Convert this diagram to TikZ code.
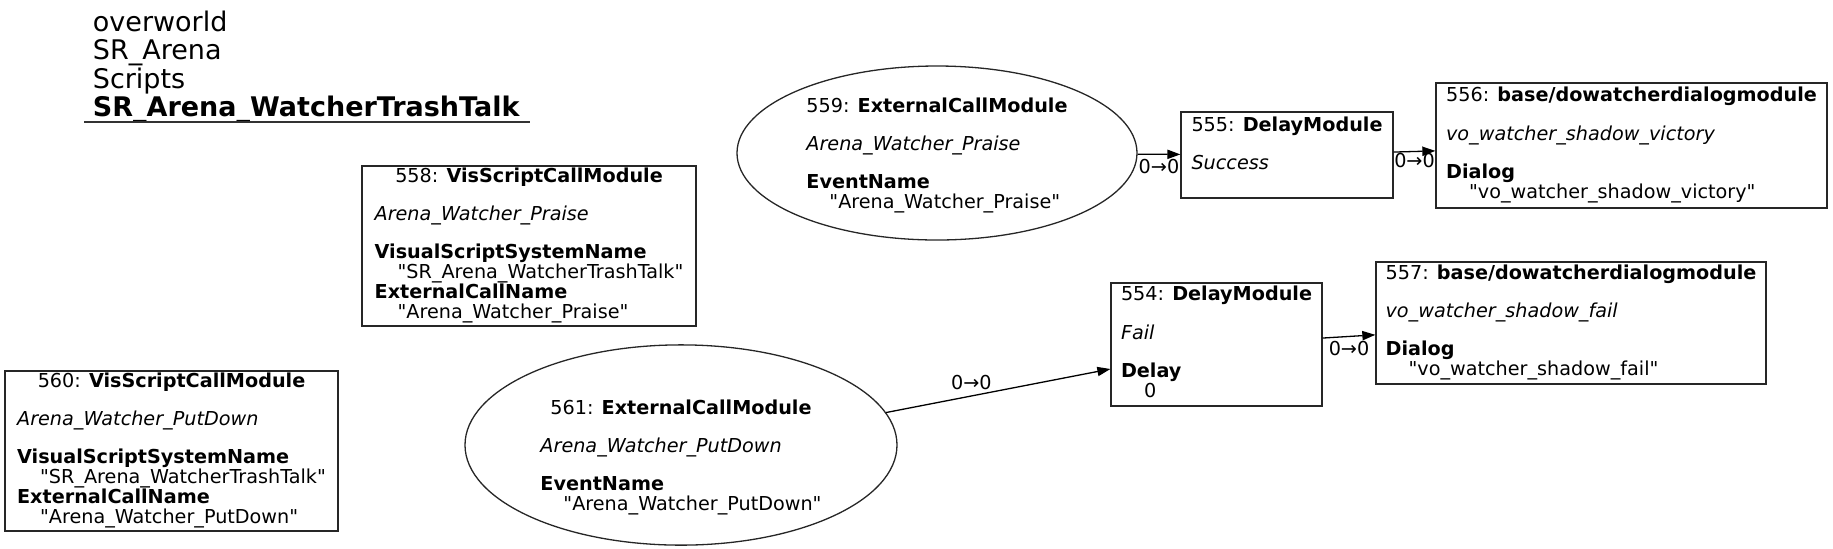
\documentclass[tikz,border=0pt]{standalone}
\usepackage{fontspec}
\newfontfamily\reg{DejaVu Sans}
\usetikzlibrary{arrows.meta,shapes.geometric}
\newcommand\nfont{\reg\fontsize{9.6}{9.1}\selectfont}
\newcommand\tfont{\reg\fontsize{13.5}{13.6}\selectfont}
\newcommand\valind{\hspace*{11.5pt}}
\tikzset{
  box/.style={draw=black!85, line width=0.65pt, rectangle, inner sep=0pt, font=\nfont},
  oval/.style={draw=black!85, line width=0.65pt, ellipse, inner sep=0pt, font=\nfont},
  link/.style={draw=black, line width=0.65pt, -{Triangle[length=6.5pt,width=4.6pt]}},
  lbl/.style={font=\nfont, inner sep=1pt}
}
\begin{document}
\begin{tikzpicture}[x=0.5pt,y=-0.5pt]
\useasboundingbox (0,0) rectangle (1833,548);

\node[anchor=north west, inner sep=0pt, font=\tfont] (title) at (92.5,10.5)
 {\begin{tabular}{@{}l@{}}overworld\\SR\_Arena\\Scripts\\\textbf{SR\_Arena\_WatcherTrashTalk}\end{tabular}};
\draw[line width=0.8pt, black!80] (84,122) -- (530,122);

\node[box, minimum width=167pt, minimum height=80pt] (n558) at (529,246)
 {\begin{tabular}{@{}l@{}}\multicolumn{1}{@{}c@{}}{558: \textbf{VisScriptCallModule}}\\ \\
 \textit{Arena\_Watcher\_Praise}\\ \\
 \textbf{VisualScriptSystemName}\\ \valind"SR\_Arena\_WatcherTrashTalk"\\
 \textbf{ExternalCallName}\\ \valind"Arena\_Watcher\_Praise"\end{tabular}};

\node[box, minimum width=166.5pt, minimum height=80pt] (n560) at (171.5,451)
 {\begin{tabular}{@{}l@{}}\multicolumn{1}{@{}c@{}}{560: \textbf{VisScriptCallModule}}\\ \\
 \textit{Arena\_Watcher\_PutDown}\\ \\
 \textbf{VisualScriptSystemName}\\ \valind"SR\_Arena\_WatcherTrashTalk"\\
 \textbf{ExternalCallName}\\ \valind"Arena\_Watcher\_PutDown"\end{tabular}};

\node[oval, minimum width=200pt, minimum height=87pt] (n559) at (937,153)
 {\begin{tabular}{@{}l@{}}\noalign{\vskip 2.6pt}\multicolumn{1}{@{}c@{}}{559: \textbf{ExternalCallModule}}\\ \\
 \textit{Arena\_Watcher\_Praise}\\ \\
 \textbf{EventName}\\ \valind"Arena\_Watcher\_Praise"\end{tabular}};

\node[oval, minimum width=216pt, minimum height=98pt] (n561) at (681,445)
 {\begin{tabular}{@{}l@{}}\noalign{\vskip 12.8pt}\multicolumn{1}{@{}c@{}}{561: \textbf{ExternalCallModule}}\\ \\
 \textit{Arena\_Watcher\_PutDown}\\ \\
 \textbf{EventName}\\ \valind"Arena\_Watcher\_PutDown"\end{tabular}};

\node[box, minimum width=106pt, minimum height=43pt] (n555) at (1287,155)
 {\begin{tabular}{@{}l@{}}555: \textbf{DelayModule}\\ \\ \textit{Success}\\ \mbox{}\end{tabular}};

\node[box, minimum width=105.5pt, minimum height=61.5pt] (n554) at (1216.5,344.5)
 {\begin{tabular}{@{}l@{}}554: \textbf{DelayModule}\\ \\ \textit{Fail}\\ \\ \textbf{Delay}\\ \valind0\end{tabular}};

\node[box, minimum width=195.5pt, minimum height=62.5pt] (n556) at (1631.5,145.5)
 {\begin{tabular}{@{}l@{}}556: \textbf{base/dowatcherdialogmodule}\\ \\
 \textit{vo\_watcher\_shadow\_victory}\\ \\
 \textbf{Dialog}\\ \valind"vo\_watcher\_shadow\_victory"\end{tabular}};

\node[box, minimum width=195pt, minimum height=61pt] (n557) at (1571,323)
 {\begin{tabular}{@{}l@{}}557: \textbf{base/dowatcherdialogmodule}\\ \\
 \textit{vo\_watcher\_shadow\_fail}\\ \\
 \textbf{Dialog}\\ \valind"vo\_watcher\_shadow\_fail"\end{tabular}};

\draw[link] (n559) -- node[lbl, below, yshift=-1pt] (l1) {0→0} (n555);
\draw[link] (n555) -- node[lbl, below, yshift=0.5pt] (l2) {0→0} (n556);
\draw[link] (n561.9) -- node[lbl, above, pos=0.38, yshift=2pt] (l3) {0→0} ([yshift=-12.25pt]n554.west);
\draw[link] (n554) -- node[lbl, below, yshift=-1pt] (l4) {0→0} (n557);
\end{tikzpicture}
\end{document}
